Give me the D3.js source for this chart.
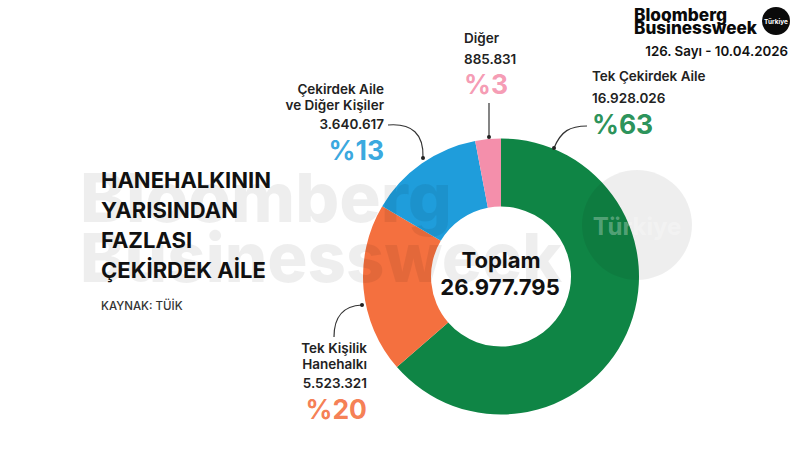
<!DOCTYPE html>
<html>
<head>
<meta charset="utf-8">
<script src="https://cdn.jsdelivr.net/npm/d3@7"></script>
<style>
html, body { margin: 0; padding: 0; background: #fff; }
text { font-family: Inter, "Liberation Sans", Arial, sans-serif; }
</style>
</head>
<body>
<div id="chart"></div>
<script>
var categories = ["Tek Çekirdek Aile", "Tek Kişilik Hanehalkı", "Çekirdek Aile ve Diğer Kişiler", "Diğer"];
var valueLabels = ["16.928.026", "5.523.321", "3.640.617", "885.831"];
var totalLabel = "26.977.795";
var shares = ["%63", "%20", "%13", "%3"];
// slice sizes as measured on the picture, they differ a little from the printed numbers
var sliceSizes = [63.6, 19.9, 13.5, 3.0];
var colors = ["#0f8545", "#f4703f", "#1f9ddb", "#f48fab"];
var titleLines = ["HANEHALKININ", "YARISINDAN", "FAZLASI", "ÇEKİRDEK AİLE"];

var svgWidth = 800;
var svgHeight = 450;

var svg = d3.select("#chart")
    .append("svg")
    .attr("width", svgWidth)
    .attr("height", svgHeight)
    .style("display", "block");

// donut
var cx = 501, cy = 276.5, outerR = 138, innerR = 70;

var pie = d3.pie().sort(null).value(d => d);
var arc = d3.arc().innerRadius(innerR).outerRadius(outerR);

svg.append("g")
    .attr("transform", `translate(${cx}, ${cy})`)
    .selectAll("path")
    .data(pie(sliceSizes))
    .enter()
    .append("path")
    .attr("d", arc)
    .attr("fill", (d, i) => colors[i]);

// watermark goes over the donut, it darkens it a bit
var mark = svg.append("g").attr("fill", "#000").attr("fill-opacity", 0.065);

mark.append("text")
    .attr("x", 80).attr("y", 222)
    .attr("textLength", 372).attr("lengthAdjust", "spacingAndGlyphs")
    .attr("font-size", 68).attr("font-weight", 800)
    .text("Bloomberg");

mark.append("text")
    .attr("x", 80).attr("y", 282)
    .attr("textLength", 482).attr("lengthAdjust", "spacingAndGlyphs")
    .attr("font-size", 68).attr("font-weight", 800)
    .text("Businessweek");

mark.append("circle").attr("cx", 637).attr("cy", 225).attr("r", 55);

svg.append("text")
    .attr("x", 637).attr("y", 235)
    .attr("text-anchor", "middle")
    .attr("font-size", 24).attr("font-weight", 700)
    .attr("fill", "#fff").attr("fill-opacity", 0.3)
    .text("Türkiye");

// center total
svg.append("text")
    .attr("x", 501).attr("y", 268)
    .attr("text-anchor", "middle")
    .attr("font-size", 22).attr("font-weight", 700).attr("fill", "#111")
    .text("Toplam");

svg.append("text")
    .attr("x", 500).attr("y", 295)
    .attr("text-anchor", "middle")
    .attr("font-size", 22).attr("font-weight", 700).attr("fill", "#111")
    .text(totalLabel);

// title
svg.append("g")
    .selectAll("text")
    .data(titleLines)
    .enter()
    .append("text")
    .attr("x", 101)
    .attr("y", (d, i) => 188 + i * 30)
    .attr("font-size", 22).attr("font-weight", 700).attr("fill", "#111")
    .text(d => d);

svg.append("text")
    .attr("x", 101).attr("y", 310)
    .attr("font-size", 11.5).attr("font-weight", 500).attr("fill", "#333")
    .text("KAYNAK: TÜİK");

// header logo
var logo = svg.append("g").attr("fill", "#0a0a0a").attr("font-weight", 800);

logo.append("text").attr("x", 634).attr("y", 21)
    .attr("font-size", 17).attr("textLength", 93).attr("lengthAdjust", "spacingAndGlyphs")
    .text("Bloomberg");
logo.append("text").attr("x", 634).attr("y", 33.5)
    .attr("font-size", 17).attr("textLength", 123).attr("lengthAdjust", "spacingAndGlyphs")
    .text("Businessweek");
logo.append("circle").attr("cx", 776).attr("cy", 21).attr("r", 14);
svg.append("text").attr("x", 776).attr("y", 23.5)
    .attr("text-anchor", "middle")
    .attr("font-size", 6.5).attr("font-weight", 700).attr("fill", "#fff")
    .text("Türkiye");

svg.append("text")
    .attr("x", 788).attr("y", 56)
    .attr("text-anchor", "end")
    .attr("font-size", 13.3).attr("font-weight", 600).attr("fill", "#111")
    .text("126. Sayı - 10.04.2026");

// slice labels
function label(x, anchor, lines, i, shareY) {
    var g = svg.append("g")
        .attr("text-anchor", anchor)
        .attr("font-size", 13.5).attr("font-weight", 600).attr("fill", "#222");
    lines.forEach(l => {
        g.append("text").attr("x", x).attr("y", l[0]).text(l[1]);
    });
    svg.append("text")
        .attr("x", x).attr("y", shareY)
        .attr("text-anchor", anchor)
        .attr("font-size", 26.5).attr("font-weight", 700).attr("fill", colors[i])
        .attr("fill-opacity", 0.9)
        .text(shares[i]);
}

label(592, "start", [[81, "Tek Çekirdek Aile"], [103, valueLabels[0]]], 0, 134);
label(367, "end", [[353, "Tek Kişilik"], [369, "Hanehalkı"], [388, valueLabels[1]]], 1, 419);
label(384, "end", [[94, "Çekirdek Aile"], [110, "ve Diğer Kişiler"], [129, valueLabels[2]]], 2, 160);
label(464, "start", [[43, "Diğer"], [64, valueLabels[3]]], 3, 94);

// leader lines
var leaders = [
    "M587,126 C570,126 561,131 554,148",
    "M334,337 C334,316 343,306 362,305",
    "M388,125 C412,123 424,134 423,158",
    "M489,103 L489,137"
];

svg.append("g")
    .selectAll("path")
    .data(leaders)
    .enter()
    .append("path")
    .attr("d", d => d)
    .attr("fill", "none")
    .attr("stroke", "#333")
    .attr("stroke-width", 1.2);

svg.append("g")
    .selectAll("circle")
    .data([[554, 148], [362, 305], [423, 158], [489, 137]])
    .enter()
    .append("circle")
    .attr("cx", d => d[0]).attr("cy", d => d[1])
    .attr("r", 2)
    .attr("fill", "#222");
</script>
</body>
</html>
